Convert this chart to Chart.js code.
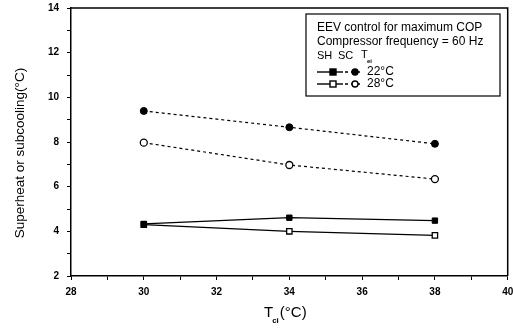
<!DOCTYPE html>
<html><head><meta charset="utf-8">
<script src="https://cdn.jsdelivr.net/npm/chart.js@4"></script>
<style>html,body{margin:0;padding:0;background:#fff}#wrap{width:513px;height:333px}</style>
</head><body><div id="wrap"><canvas id="c" width="513" height="333"></canvas></div>
<script>
const tci = [30, 34, 38];
const sh22 = [4.33, 4.61, 4.48];
const sh28 = [4.30, 4.00, 3.82];
const sc22 = [9.39, 8.66, 7.92];
const sc28 = [7.97, 6.97, 6.34];
const xTicks = [28, 30, 32, 34, 36, 38, 40];
const yTicks = [2, 4, 6, 8, 10, 12, 14];
const yTitle = 'Superheat or subcooling(\u00B0C)';
const legendLines = ['EEV control for maximum COP', 'Compressor frequency = 60 Hz'];
const legendHead = ['SH', 'SC', 'T'];
const legendTemps = ['22\u00B0C', '28\u00B0C'];

const pts = a => tci.map((x, i) => ({x, y: a[i]}));
const FONT = "'Liberation Sans', Arial, sans-serif";

const decor = {
  id: 'decor',
  afterDraw(chart) {
    const ctx = chart.ctx, ca = chart.chartArea;
    ctx.save();
    ctx.strokeStyle = '#000';
    ctx.fillStyle = '#000';
    ctx.lineWidth = 1.5;
    ctx.beginPath();
    ctx.moveTo(ca.left, ca.top); ctx.lineTo(ca.right, ca.top); ctx.lineTo(ca.right, ca.bottom);
    ctx.stroke();
    // y title
    ctx.save();
    ctx.translate(20, 153);
    ctx.rotate(-Math.PI / 2);
    ctx.font = '13.5px ' + FONT;
    ctx.textAlign = 'center';
    ctx.textBaseline = 'middle';
    ctx.fillText(yTitle, 0, 0);
    ctx.restore();
    // x title with subscript
    ctx.textBaseline = 'alphabetic';
    ctx.font = '15px ' + FONT;
    const cx = 264;
    ctx.fillText('T', cx, 317);
    const tw = ctx.measureText('T').width;
    ctx.font = 'bold 8px ' + FONT;
    ctx.fillText('ci', cx + tw - 1, 323);
    const sw = ctx.measureText('ci').width;
    ctx.font = '15px ' + FONT;
    ctx.fillText('(\u00B0C)', cx + tw + sw, 317);
    // legend box
    ctx.lineWidth = 1.2;
    ctx.strokeRect(306, 14, 194, 82);
    ctx.font = '12px ' + FONT;
    ctx.textBaseline = 'middle';
    ctx.fillText(legendLines[0], 317, 28);
    ctx.fillText(legendLines[1], 317, 42);
    ctx.font = '11px ' + FONT;
    ctx.fillText(legendHead[0], 317, 56);
    ctx.fillText(legendHead[1], 338, 56);
    ctx.fillText(legendHead[2], 361, 55);
    ctx.font = 'bold 6px ' + FONT;
    ctx.fillText('ei', 367, 61);
    ctx.font = '12px ' + FONT;
    const rows = [72, 84];
    rows.forEach((y, i) => {
      const filled = i === 0;
      ctx.lineWidth = 1.4;
      ctx.setLineDash([]);
      ctx.beginPath(); ctx.moveTo(317, y); ctx.lineTo(343, y); ctx.stroke();
      ctx.setLineDash([3, 3]);
      ctx.beginPath(); ctx.moveTo(345, y); ctx.lineTo(363, y); ctx.stroke();
      ctx.setLineDash([]);
      ctx.fillStyle = filled ? '#000' : '#fff';
      ctx.fillRect(330, y - 3, 6, 6); ctx.strokeRect(330, y - 3, 6, 6);
      ctx.beginPath(); ctx.arc(355, y, 3, 0, Math.PI * 2); ctx.fill(); ctx.stroke();
      ctx.fillStyle = '#000';
      ctx.fillText(legendTemps[i], 367, y);
    });
    ctx.restore();
  }
};

new Chart(document.getElementById('c'), {
  type: 'line',
  data: {
    datasets: [
      {data: pts(sc22), borderColor: '#000', borderWidth: 1.2, borderDash: [3, 3], pointStyle: 'circle', pointRadius: 3.5, pointBackgroundColor: '#000', pointBorderColor: '#000', pointBorderWidth: 1},
      {data: pts(sc28), borderColor: '#000', borderWidth: 1.2, borderDash: [3, 3], pointStyle: 'circle', pointRadius: 3.5, pointBackgroundColor: '#fff', pointBorderColor: '#000', pointBorderWidth: 1.3},
      {data: pts(sh22), borderColor: '#000', borderWidth: 1.3, pointStyle: 'rect', pointRadius: 3.8, pointBackgroundColor: '#000', pointBorderColor: '#000', pointBorderWidth: 1},
      {data: pts(sh28), borderColor: '#000', borderWidth: 1.3, pointStyle: 'rect', pointRadius: 3.8, pointBackgroundColor: '#fff', pointBorderColor: '#000', pointBorderWidth: 1.3}
    ]
  },
  options: {
    responsive: false,
    animation: false,
    devicePixelRatio: 1,
    layout: {padding: {top: 8, right: 5, left: 0, bottom: 0}},
    plugins: {legend: {display: false}, tooltip: {enabled: false}},
    scales: {
      x: {
        type: 'linear', min: 28, max: 40,
        afterBuildTicks: s => { s.ticks = []; for (let v = 28; v <= 40; v++) s.ticks.push({value: v}); },
        afterFit: s => { s.height = 57; s.paddingRight = 0; s.paddingLeft = 0; },
        grid: {drawOnChartArea: false, drawTicks: true, tickLength: 4, color: '#000', lineWidth: 1},
        border: {color: '#000', width: 1.5},
        ticks: {color: '#000', font: {family: FONT, size: 10, weight: 'bold'}, padding: 6, maxRotation: 0, autoSkip: false,
          callback: v => xTicks.includes(v) ? String(v) : ''}
      },
      y: {
        type: 'linear', min: 2, max: 14,
        afterBuildTicks: s => { s.ticks = []; for (let v = 2; v <= 14; v++) s.ticks.push({value: v}); },
        afterFit: s => { s.width = 71; s.paddingTop = 0; s.paddingBottom = 0; },
        grid: {drawOnChartArea: false, drawTicks: true, tickLength: 4, color: '#000', lineWidth: 1},
        border: {color: '#000', width: 1.5},
        ticks: {color: '#000', font: {family: FONT, size: 10, weight: 'bold'}, padding: 8, autoSkip: false,
          callback: v => yTicks.includes(v) ? String(v) : ''}
      }
    }
  },
  plugins: [decor]
});
</script></body></html>
